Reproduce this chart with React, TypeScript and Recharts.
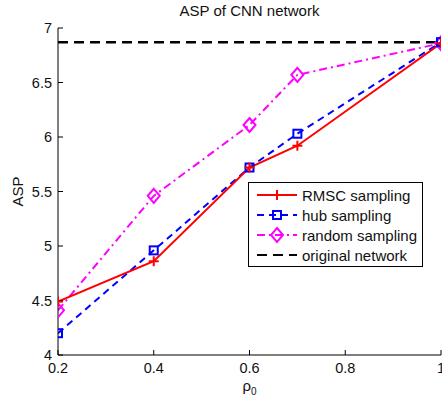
import React from 'react';
import { LineChart, Line, XAxis, YAxis, Legend } from 'recharts';

// values
const rho = [0.2, 0.4, 0.6, 0.7, 1.0];
const rmsc = [4.49, 4.86, 5.72, 5.92, 6.86];
const hub = [4.2, 4.96, 5.72, 6.03, 6.87];
const random = [4.41, 5.46, 6.11, 6.57, 6.86];
const original = [6.87, 6.87, 6.87, 6.87, 6.87];

const xTicks = [0.2, 0.4, 0.6, 0.8, 1];
const yTicks = [4, 4.5, 5, 5.5, 6, 6.5, 7];

const data = rho.map((r, i) => ({
  rho: r,
  rmsc: rmsc[i],
  hub: hub[i],
  random: random[i],
  original: original[i],
}));

const FONT = "'Liberation Sans', Arial, Helvetica, sans-serif";
const RED = '#ff0000';
const BLUE = '#0000ff';
const MAGENTA = '#ff00ff';
const BLACK = '#000000';

const PlusDot = (props: any) => {
  const { cx, cy } = props;
  if (cx == null || cy == null) return null;
  return (
    <g>
      <line x1={cx - 5} x2={cx + 5} y1={cy} y2={cy} stroke={RED} strokeWidth={2} />
      <line x1={cx} x2={cx} y1={cy - 5} y2={cy + 5} stroke={RED} strokeWidth={2} />
    </g>
  );
};

const SquareDot = (props: any) => {
  const { cx, cy } = props;
  if (cx == null || cy == null) return null;
  return <rect x={cx - 4} y={cy - 4} width={8} height={8} fill="none" stroke={BLUE} strokeWidth={2} />;
};

const DiamondDot = (props: any) => {
  const { cx, cy } = props;
  if (cx == null || cy == null) return null;
  return (
    <polygon
      points={`${cx},${cy - 7} ${cx + 6},${cy} ${cx},${cy + 7} ${cx - 6},${cy}`}
      fill="none"
      stroke={MAGENTA}
      strokeWidth={2}
    />
  );
};

const EmptyTick = () => null;

const series = [
  { key: 'rmsc', name: 'RMSC sampling', color: RED, dash: undefined, Dot: PlusDot },
  { key: 'hub', name: 'hub sampling', color: BLUE, dash: '7 5', Dot: SquareDot },
  { key: 'random', name: 'random sampling', color: MAGENTA, dash: '8 4 2 4', Dot: DiamondDot },
  { key: 'original', name: 'original network', color: BLACK, dash: '10 6', Dot: null },
];

const LegendBox = () => (
  <div
    style={{
      border: '1px solid #000',
      background: '#fff',
      width: 173,
      height: 83,
      boxSizing: 'content-box',
      padding: 0,
      fontFamily: FONT,
      fontSize: 15,
      color: '#111',
    }}
  >
    {series.map((s, i) => (
      <div key={s.key} style={{ display: 'flex', alignItems: 'center', height: 20, marginTop: i === 0 ? 2 : 0 }}>
        <svg width={52} height={20} style={{ display: 'block' }}>
          <line x1={8} x2={48} y1={10} y2={10} stroke={s.color} strokeWidth={2} strokeDasharray={s.dash} />
          {s.Dot && <s.Dot cx={28} cy={10} />}
        </svg>
        <span style={{ marginLeft: 1 }}>{s.name}</span>
      </div>
    ))}
  </div>
);

const RhoLabel = (props: any) => {
  const { viewBox } = props;
  const cx = viewBox.x + viewBox.width / 2;
  return (
    <text x={cx} y={viewBox.y + 36} textAnchor="middle" fontSize={15} fontFamily={FONT} fill="#111">
      ρ<tspan fontSize={10} dy={4}>0</tspan>
    </text>
  );
};

const AspLabel = (props: any) => {
  const { viewBox } = props;
  const cy = viewBox.y + viewBox.height / 2;
  return (
    <text
      x={23}
      y={cy}
      textAnchor="middle"
      fontSize={15}
      fontFamily={FONT}
      fill="#111"
      transform={`rotate(-90, 23, ${cy})`}
    >
      ASP
    </text>
  );
};

const tickStyle = { fontSize: 14.5, fontFamily: FONT, fill: '#111' };

export default function App() {
  return (
    <div style={{ position: 'absolute', left: 0, top: 0, width: 442, height: 403, overflow: 'hidden', background: '#fff' }}>
      <div
        style={{
          position: 'absolute',
          left: 58,
          top: 2,
          width: 383,
          textAlign: 'center',
          fontFamily: FONT,
          fontSize: 15,
          color: '#111',
          zIndex: 2,
        }}
      >
        ASP of CNN network
      </div>
      <LineChart width={442} height={403} data={data} margin={{ top: 28, right: 1, bottom: 0, left: 0 }}>
        <XAxis
          xAxisId="b"
          dataKey="rho"
          type="number"
          domain={[0.2, 1]}
          ticks={xTicks}
          interval={0}
          height={48}
          tickSize={-5}
          tickMargin={13}
          tick={tickStyle}
          stroke={BLACK}
          tickLine={{ stroke: BLACK }}
          axisLine={{ stroke: BLACK }}
          label={<RhoLabel />}
          allowDataOverflow
        />
        <XAxis
          xAxisId="t"
          orientation="top"
          type="number"
          domain={[0.2, 1]}
          ticks={xTicks}
          interval={0}
          height={0}
          tickSize={-5}
          tick={<EmptyTick />}
          tickLine={{ stroke: BLACK }}
          axisLine={{ stroke: BLACK }}
          allowDataOverflow
        />
        <YAxis
          yAxisId="l"
          type="number"
          domain={[4, 7]}
          ticks={yTicks}
          interval={0}
          width={58}
          tickSize={-5}
          tickMargin={11}
          tick={tickStyle}
          tickLine={{ stroke: BLACK }}
          axisLine={{ stroke: BLACK }}
          label={<AspLabel />}
          allowDataOverflow
        />
        <YAxis
          yAxisId="r"
          orientation="right"
          type="number"
          domain={[4, 7]}
          ticks={yTicks}
          interval={0}
          width={0}
          tickSize={-5}
          tick={<EmptyTick />}
          tickLine={{ stroke: BLACK }}
          axisLine={{ stroke: BLACK }}
          allowDataOverflow
        />
        <Line
          xAxisId="b"
          yAxisId="l"
          dataKey="random"
          name="random sampling"
          stroke={MAGENTA}
          strokeWidth={2}
          strokeDasharray="8 4 2 4"
          dot={<DiamondDot />}
          activeDot={false}
          isAnimationActive={false}
        />
        <Line
          xAxisId="b"
          yAxisId="l"
          dataKey="hub"
          name="hub sampling"
          stroke={BLUE}
          strokeWidth={2}
          strokeDasharray="7 5"
          dot={<SquareDot />}
          activeDot={false}
          isAnimationActive={false}
        />
        <Line
          xAxisId="b"
          yAxisId="l"
          dataKey="rmsc"
          name="RMSC sampling"
          stroke={RED}
          strokeWidth={2}
          dot={<PlusDot />}
          activeDot={false}
          isAnimationActive={false}
        />
        <Line
          xAxisId="b"
          yAxisId="l"
          dataKey="original"
          name="original network"
          stroke={BLACK}
          strokeWidth={2.5}
          strokeDasharray="10 6"
          dot={false}
          activeDot={false}
          isAnimationActive={false}
        />
        <Legend
          layout="vertical"
          align="center"
          verticalAlign="middle"
          content={<LegendBox />}
          wrapperStyle={{ position: 'absolute', left: 248, top: 182, width: 175, height: 85 }}
        />
      </LineChart>
    </div>
  );
}
